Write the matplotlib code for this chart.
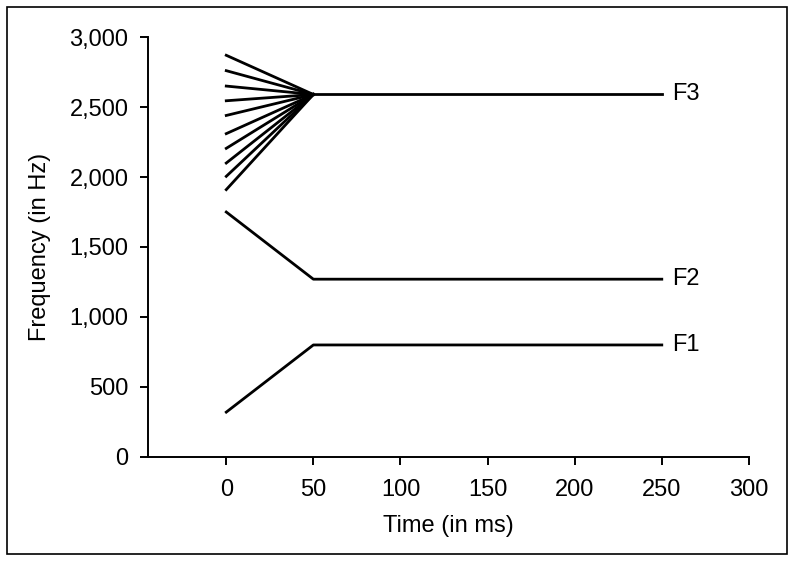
import matplotlib
matplotlib.use("Agg")
import matplotlib.pyplot as plt
from matplotlib.patches import Rectangle

plt.rcParams['font.family'] = ['Liberation Sans', 'DejaVu Sans']

# formant tracks (time in ms, frequency in Hz)
t_start = 0
t_steady = 50
t_end = 250

f1_start = 320
f1_steady = 800
f2_start = 1750
f2_steady = 1270
f3_starts = [2870, 2760, 2650, 2545, 2440, 2310, 2205, 2100, 2005, 1910]
f3_steady = 2590

labels = ['F1', 'F2', 'F3']
xticks = [0, 50, 100, 150, 200, 250, 300]
yticks = [0, 500, 1000, 1500, 2000, 2500, 3000]

fig = plt.figure(figsize=(7.95, 5.62), dpi=100)
ax = fig.add_axes([0.186, 0.187, 0.756, 0.747])

lw = 2.0
ax.plot([t_start, t_steady, t_end], [f1_start, f1_steady, f1_steady], color='black', lw=lw)
ax.plot([t_start, t_steady, t_end], [f2_start, f2_steady, f2_steady], color='black', lw=lw)
for f in f3_starts:
    ax.plot([t_start, t_steady], [f, f3_steady], color='black', lw=lw)
ax.plot([t_steady, t_end], [f3_steady, f3_steady], color='black', lw=lw)

for lab, y in zip(labels, [f1_steady, f2_steady, f3_steady]):
    ax.text(t_end + 6, y, lab, fontsize=17, va='center', ha='left')

ax.set_xlim(-45, 300)
ax.set_ylim(0, 3000)
ax.set_xticks(xticks)
ax.set_yticks(yticks)
ax.set_yticklabels([f'{v:,}' for v in yticks])
ax.spines['top'].set_visible(False)
ax.spines['right'].set_visible(False)
for s in ['left', 'bottom']:
    ax.spines[s].set_linewidth(1.4)
ax.tick_params(direction='out', length=6, width=1.4, labelsize=17)
ax.tick_params(axis='x', pad=10)
ax.tick_params(axis='y', pad=8)
ax.set_xlabel('Time (in ms)', fontsize=17, labelpad=10)
ax.set_ylabel('Frequency (in Hz)', fontsize=17, labelpad=13)

fig.patches.append(Rectangle((0.009, 0.014), 0.981, 0.974, transform=fig.transFigure,
                             fill=False, edgecolor='black', lw=1.2))

fig.savefig('out.png', dpi=100)
